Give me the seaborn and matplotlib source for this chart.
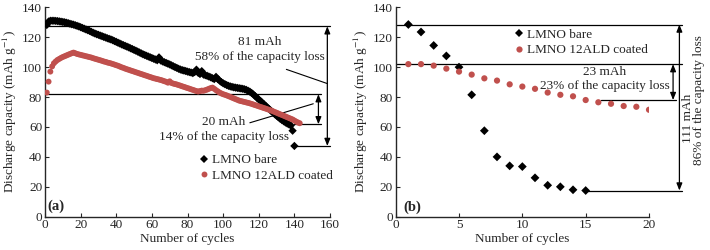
import numpy as np
import pandas as pd
import matplotlib
matplotlib.use('Agg')
import matplotlib.pyplot as plt
import seaborn as sns

# (a) discharge capacity vs cycle, long run (one per cycle)
bare_a = [128.2, 130.5, 131.0, 131.0, 131.0, 130.9, 130.8, 130.6, 130.4, 130.2,
          130.0, 129.7, 129.4, 129.0, 128.7, 128.4, 128.0, 127.6, 127.2, 126.7,
          126.2, 125.7, 125.2, 124.7, 124.2, 123.6, 123.0, 122.5, 122.0, 121.6,
          121.1, 120.7, 120.2, 119.8, 119.3, 118.9, 118.5, 118.0, 117.4, 116.9,
          116.3, 115.8, 115.2, 114.7, 114.2, 113.7, 113.2, 112.6, 112.1, 111.5,
          111.0, 110.4, 109.8, 109.2, 108.6, 108.1, 107.6, 107.1, 106.6, 106.1,
          105.6, 105.1, 104.6, 106.5, 104.4, 103.8, 103.3, 102.8, 102.3, 101.8,
          101.2, 100.6, 100.0, 99.5, 98.9, 98.4, 98.0, 97.7, 97.4, 97.0,
          96.7, 96.4, 96.0, 96.7, 98.3, 96.2, 95.4, 97.3, 95.0, 94.6,
          94.2, 93.7, 93.2, 92.6, 92.0, 93.5, 92.0, 91.0, 90.0, 89.2,
          88.6, 88.0, 87.5, 87.1, 86.8, 86.5, 86.3, 86.1, 85.9, 85.7,
          85.5, 85.2, 84.8, 84.2, 83.6, 82.7, 81.7, 80.6, 79.5, 78.4,
          77.3, 76.2, 75.1, 74.0, 72.9, 71.8, 70.7, 69.6, 68.5, 67.5,
          66.5, 65.5, 64.6, 63.8, 63.0, 62.3, 61.7, 61.0, 57.5, 47.3]
coated_a = [83.0, 90.3, 97.0, 100.5, 102.6, 103.8, 104.8, 105.5, 106.2, 106.8,
            107.3, 107.8, 108.3, 108.8, 109.3, 109.7, 109.3, 108.8, 108.5, 108.2,
            107.9, 107.6, 107.3, 107.0, 106.7, 106.4, 106.0, 105.6, 105.3, 104.9,
            104.6, 104.2, 103.8, 103.5, 103.1, 102.8, 102.5, 102.1, 101.7, 101.3,
            100.9, 100.4, 99.9, 99.5, 99.0, 98.6, 98.2, 97.8, 97.4, 97.0,
            96.6, 96.2, 95.8, 95.4, 95.0, 94.6, 94.2, 93.8, 93.4, 93.0,
            92.6, 92.3, 92.0, 91.7, 91.4, 91.0, 90.6, 90.2, 89.6, 90.5,
            89.4, 89.0, 88.7, 88.4, 88.0, 87.6, 87.2, 86.8, 86.4, 86.0,
            85.6, 85.2, 84.8, 84.4, 84.0, 83.7, 84.0, 84.3, 84.2, 84.6,
            85.0, 85.5, 86.0, 86.3, 85.5, 84.6, 83.8, 83.0, 82.4, 81.9,
            81.5, 81.1, 80.6, 80.1, 79.6, 79.1, 78.6, 78.1, 77.6, 77.3,
            77.0, 76.7, 76.4, 76.1, 75.8, 75.4, 75.0, 74.6, 74.2, 73.8,
            73.4, 73.0, 72.6, 72.2, 71.8, 71.4, 71.0, 70.5, 70.0, 69.5,
            69.0, 68.5, 68.0, 67.5, 67.0, 66.5, 66.0, 65.5, 65.0, 64.3,
            63.6, 63.0, 62.5]

# (b) first cycles
bare_b = [128.5, 123.5, 114.5, 107.5, 100.0, 81.5, 57.5, 40.0, 34.0, 33.5,
          26.0, 21.0, 20.0, 18.0, 17.5]
coated_b = [102.0, 102.0, 101.0, 99.0, 97.0, 95.0, 92.5, 91.0, 88.5, 87.0,
            85.5, 83.0, 81.5, 80.5, 78.0, 76.5, 75.5, 74.0, 73.5, 71.5]

labels = ['LMNO bare', 'LMNO 12ALD coated']
colors = {'LMNO bare': 'black', 'LMNO 12ALD coated': '#C0504D'}
markers = {'LMNO bare': 'D', 'LMNO 12ALD coated': 'o'}

def to_df(bare, coated):
    d1 = pd.DataFrame({'cycle': np.arange(1, len(bare) + 1), 'cap': bare, 'sample': labels[0]})
    d2 = pd.DataFrame({'cycle': np.arange(1, len(coated) + 1), 'cap': coated, 'sample': labels[1]})
    return pd.concat([d1, d2], ignore_index=True)

df_a = to_df(bare_a, coated_a)
df_b = to_df(bare_b, coated_b)

sns.set_style('ticks')
plt.rcParams['font.family'] = ['Liberation Serif', 'DejaVu Serif']
plt.rcParams['mathtext.fontset'] = 'stix'
plt.rcParams['font.size'] = 9.5

fig = plt.figure(figsize=(7.1, 2.5), dpi=100)
ax1 = fig.add_axes([0.0634, 0.1332, 0.4014, 0.8376])
ax2 = fig.add_axes([0.5573, 0.1332, 0.3568, 0.8376])

sns.scatterplot(data=df_a, x='cycle', y='cap', hue='sample', style='sample',
                hue_order=labels, style_order=labels, palette=colors, markers=markers,
                s=18, linewidth=0, ax=ax1, zorder=3)
sns.scatterplot(data=df_b, x='cycle', y='cap', hue='sample', style='sample',
                hue_order=labels, style_order=labels, palette=colors, markers=markers,
                s=20, linewidth=0, ax=ax2, zorder=3)

arrow = dict(arrowstyle='<|-|>,head_length=0.45,head_width=0.18', color='black',
             lw=0.9, shrinkA=0, shrinkB=0)

for ax in (ax1, ax2):
    ax.set_ylim(0, 140)
    ax.set_yticks(range(0, 141, 20))
    ax.set_ylabel('Discharge capacity (mAh g$^{-1}$)', labelpad=2)
    ax.set_xlabel('Number of cycles', labelpad=1)
    ax.tick_params(direction='in', length=3, width=0.8, pad=2)
    for s in ['left', 'bottom']:
        ax.spines[s].set_linewidth(1.0)
    sns.despine(ax=ax)

# panel (a)
ax1.set_xlim(0, 160)
ax1.set_xticks(range(0, 161, 20))
ax1.plot([0, 160], [127.3, 127.3], color='black', lw=0.9, clip_on=False)
ax1.plot([0, 155], [81.9, 81.9], color='black', lw=0.9, clip_on=False)
ax1.plot([140, 155], [61.8, 61.8], color='black', lw=0.9, clip_on=False)
ax1.plot([141, 160], [47.3, 47.3], color='black', lw=0.9, clip_on=False)
ax1.annotate('', xy=(153.5, 81.9), xytext=(153.5, 61.8), arrowprops=arrow)
ax1.annotate('', xy=(158.5, 127.3), xytext=(158.5, 47.3), arrowprops=arrow)
ax1.plot([135.5, 158.5], [98.5, 89.0], color='black', lw=0.8)
ax1.plot([115, 150.6], [62.8, 75.5], color='black', lw=0.8)
ax1.text(120.5, 116.5, '81 mAh', ha='center', va='center')
ax1.text(120.5, 107.0, '58% of the capacity loss', ha='center', va='center')
ax1.text(100.5, 63.6, '20 mAh', ha='center', va='center')
ax1.text(100.5, 53.2, '14% of the capacity loss', ha='center', va='center')
ax1.text(1.5, 7, '(a)', fontweight='bold', ha='left', va='center', fontsize=10.5)
sns.move_legend(ax1, 'center left', bbox_to_anchor=(0.539, 0.233), frameon=False, title=None,
                handletextpad=0.2, handlelength=0.8, borderpad=0, borderaxespad=0,
                labelspacing=0.25)

# panel (b)
ax2.set_xlim(0, 20)
ax2.set_xticks(range(0, 21, 5))
ax2.plot([0, 22.6], [128.5, 128.5], color='black', lw=0.9, clip_on=False)
ax2.plot([0, 22.6], [102.0, 102.0], color='black', lw=0.9, clip_on=False)
ax2.plot([16.2, 22.1], [78.0, 78.0], color='black', lw=0.9, clip_on=False)
ax2.plot([15.1, 22.6], [17.5, 17.5], color='black', lw=0.9, clip_on=False)
ax2.annotate('', xy=(21.9, 102.0), xytext=(21.9, 78.0), arrowprops=arrow,
             annotation_clip=False)
ax2.annotate('', xy=(22.4, 128.5), xytext=(22.4, 17.5), arrowprops=arrow,
             annotation_clip=False)
ax2.text(16.5, 97.0, '23 mAh', ha='center', va='center')
ax2.text(16.55, 87.6, '23% of the capacity loss', ha='center', va='center')
ax2.text(23.05, 65.8, '111 mAh', rotation=90, ha='center', va='center')
ax2.text(23.95, 78.0, '86% of the capacity loss', rotation=90, ha='center', va='center')
ax2.text(0.6, 6.5, '(b)', fontweight='bold', ha='left', va='center', fontsize=10.5)
sns.move_legend(ax2, 'center left', bbox_to_anchor=(0.467, 0.833), frameon=False, title=None,
                handletextpad=0.2, handlelength=0.8, borderpad=0, borderaxespad=0,
                labelspacing=0.25)

fig.savefig('out.png', dpi=100)
